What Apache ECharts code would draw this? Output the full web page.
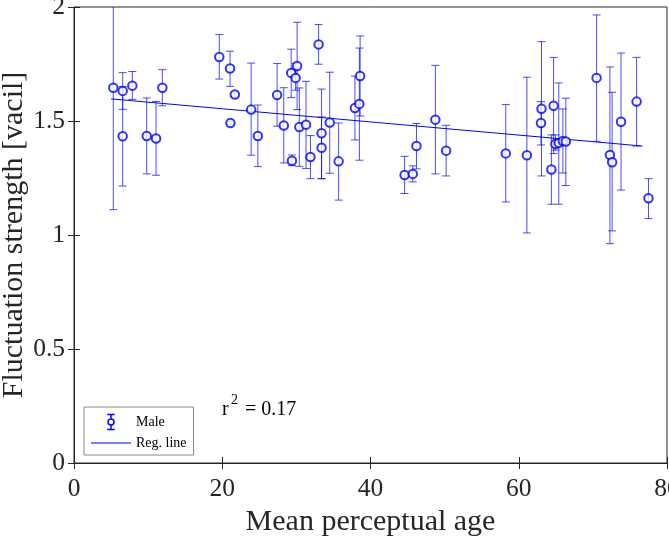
<!DOCTYPE html>
<html>
<head>
<meta charset="utf-8">
<script src="https://cdn.jsdelivr.net/npm/echarts@6/dist/echarts.min.js"></script>
<style>
  html, body { margin: 0; padding: 0; background: #fff; }
  #chart { width: 669px; height: 547px; }
</style>
</head>
<body>
<div id="chart"></div>
<script>

// mean perceptual age of each speaker
var ageX = [5.3, 6.57, 6.57, 7.87, 9.81, 11.07, 11.92, 19.6, 21.05, 21.7,
    21.1, 23.9, 24.8, 27.4, 28.3, 29.3, 29.4, 29.9, 30.1, 30.4,
    31.3, 31.9, 33.0, 33.4, 33.4, 34.5, 35.7, 37.9, 38.5, 38.6,
    44.6, 45.7, 46.2, 48.75, 50.2, 58.25, 61.1, 63.07, 63.0, 64.7,
    64.4, 64.95, 65.4, 65.95, 66.35, 70.5, 72.3, 72.6, 73.8, 75.9, 77.5];
// mean fluctuation strength
var fsMean = [1.646, 1.632, 1.433, 1.655, 1.434, 1.423, 1.646, 1.781, 1.730, 1.616,
    1.491, 1.550, 1.434, 1.614, 1.480, 1.711, 1.326, 1.689, 1.741, 1.474,
    1.484, 1.342, 1.836, 1.446, 1.383, 1.493, 1.323, 1.557, 1.575, 1.697,
    1.263, 1.268, 1.390, 1.506, 1.370, 1.358, 1.350, 1.554, 1.491, 1.567,
    1.287, 1.399, 1.404, 1.412, 1.410, 1.689, 1.351, 1.319, 1.497, 1.585, 1.161];
// error bar ends
var fsLow = [1.111, 1.551, 1.215, 1.595, 1.268, 1.262, 1.567, 1.684, 1.652, 1.606,
    1.484, 1.350, 1.300, 1.477, 1.316, 1.603, 1.304, 1.635, 1.550, 1.301,
    1.292, 1.247, 1.749, 1.247, 1.247, 1.271, 1.153, 1.417, 1.328, 1.522,
    1.182, 1.233, 1.290, 1.268, 1.259, 1.145, 1.009, 1.259, 1.395, 1.357,
    1.135, 1.372, 1.135, 1.272, 1.217, 1.411, 0.962, 1.018, 1.197, 1.390, 1.072];
var fsHigh = [2.180, 1.712, 1.651, 1.717, 1.601, 1.586, 1.725, 1.879, 1.806, 1.626,
    1.498, 1.754, 1.570, 1.752, 1.646, 1.815, 1.351, 1.752, 1.933, 1.645,
    1.674, 1.436, 1.923, 1.640, 1.518, 1.714, 1.491, 1.697, 1.820, 1.873,
    1.345, 1.303, 1.489, 1.744, 1.481, 1.572, 1.692, 1.848, 1.585, 1.779,
    1.439, 1.439, 1.667, 1.553, 1.600, 1.965, 1.737, 1.626, 1.798, 1.779, 1.247];

// regression line end points
var regX = [5.0, 76.7];
var regY = [1.597, 1.390];

var BLUE = '#0000ff';
var AXIS = '#262626';
var SERIF = '"Liberation Serif", "DejaVu Serif", serif';

var chart = echarts.init(document.getElementById('chart'));

var pts = ageX.map(function (x, i) { return [x, fsMean[i]]; });
var bars = ageX.map(function (x, i) { return [x, fsLow[i], fsHigh[i]]; });
var reg = regX.map(function (x, i) { return [x, regY[i]]; });

function errBar(params, api) {
    var lo = api.coord([api.value(0), api.value(1)]);
    var hi = api.coord([api.value(0), api.value(2)]);
    var w = 4;
    var st = { stroke: BLUE, lineWidth: 1, opacity: 0.7 };
    return {
        type: 'group',
        children: [
            { type: 'line', shape: { x1: lo[0], y1: lo[1], x2: hi[0], y2: hi[1] }, style: st },
            { type: 'line', shape: { x1: lo[0] - w, y1: lo[1], x2: lo[0] + w, y2: lo[1] }, style: st },
            { type: 'line', shape: { x1: hi[0] - w, y1: hi[1], x2: hi[0] + w, y2: hi[1] }, style: st }
        ]
    };
}

var hiddenAxis = {
    axisLine: { show: false },
    axisLabel: { show: false },
    splitLine: { show: false },
    axisTick: { inside: true, length: 6, lineStyle: { color: AXIS } }
};

option = {
    animation: false,
    grid: {
        left: 74, right: 2, top: 7, bottom: 84,
        outerBoundsMode: 'none',
        show: true, borderColor: AXIS, borderWidth: 1
    },
    xAxis: [{
        type: 'value', min: 0, max: 80, interval: 20,
        name: 'Mean perceptual age',
        nameLocation: 'middle', nameGap: 42,
        nameTextStyle: { fontFamily: SERIF, fontSize: 30, color: AXIS },
        axisLine: { lineStyle: { color: AXIS } },
        axisTick: { inside: true, length: 6, lineStyle: { color: AXIS } },
        axisLabel: { fontFamily: SERIF, fontSize: 25.5, color: AXIS, margin: 13 },
        splitLine: { show: false }
    }, Object.assign({ type: 'value', position: 'top', min: 0, max: 80, interval: 20 }, hiddenAxis)],
    yAxis: [{
        type: 'value', min: 0, max: 2, interval: 0.5,
        name: 'Fluctuation strength [vacil]',
        nameLocation: 'middle', nameGap: 45,
        nameMoveOverlap: false,
        nameTextStyle: { fontFamily: SERIF, fontSize: 30, color: AXIS },
        axisLine: { lineStyle: { color: AXIS } },
        axisTick: { inside: true, length: 6, lineStyle: { color: AXIS } },
        axisLabel: { fontFamily: SERIF, fontSize: 25.5, color: AXIS, margin: 9 },
        splitLine: { show: false }
    }, Object.assign({ type: 'value', position: 'right', min: 0, max: 2, interval: 0.5 }, hiddenAxis)],
    legend: {
        orient: 'vertical',
        left: 84, top: 407,
        padding: [5, 7],
        itemGap: 4,
        itemWidth: 40, itemHeight: 15,
        borderColor: '#888', borderWidth: 1,
        backgroundColor: '#fff',
        textStyle: { fontFamily: SERIF, fontSize: 14, color: '#000' },
        data: [
            { name: 'Male', icon: 'path://M0,0L10,0M5,0L5,6M5,14L5,20M0,20L10,20M5,6A4,4,0,1,1,5,14A4,4,0,1,1,5,6',
              itemStyle: { color: 'none', borderColor: BLUE, borderWidth: 1.5 } },
            { name: 'Reg. line', icon: 'path://M0,0L40,0L40,1L0,1Z',
              itemStyle: { color: BLUE, borderWidth: 0 } }
        ]
    },
    graphic: [
        { type: 'text', left: 222, top: 400, style: { text: 'r', font: '20px ' + SERIF, fill: '#000' } },
        { type: 'text', left: 231, top: 393, style: { text: '2', font: '14px ' + SERIF, fill: '#000' } },
        { type: 'text', left: 245, top: 400, style: { text: '= 0.17', font: '20px ' + SERIF, fill: '#000' } }
    ],
    series: [{
        name: 'Male',
        type: 'custom',
        clip: true,
        renderItem: errBar,
        itemStyle: { color: BLUE },
        data: bars,
        z: 2
    }, {
        name: 'Male',
        type: 'scatter',
        symbol: 'emptyCircle',
        symbolSize: 8.5,
        itemStyle: { color: BLUE, borderColor: BLUE, borderWidth: 1.3 },
        data: pts,
        z: 3
    }, {
        name: 'Reg. line',
        type: 'line',
        showSymbol: false,
        symbol: 'none',
        lineStyle: { color: BLUE, width: 1 },
        data: reg,
        z: 2
    }]
};

chart.setOption(option);
</script>
</body>
</html>
